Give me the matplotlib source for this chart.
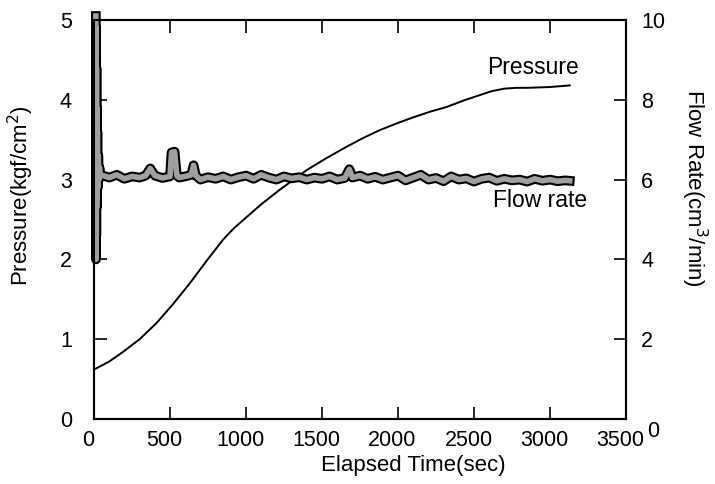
import matplotlib
matplotlib.use('Agg')
import matplotlib.pyplot as plt
import matplotlib.patheffects as pe
from matplotlib.transforms import ScaledTranslation

plt.rcParams['font.family'] = ['Liberation Sans', 'DejaVu Sans']

# Pressure curve (kgf/cm2) vs elapsed time (sec)
p_time = [0, 100, 190, 300, 410, 520, 630, 740, 850, 920, 980, 1100, 1220,
          1400, 1530, 1660, 1770, 1880, 2000, 2100, 2210, 2320, 2430, 2540,
          2620, 2700, 2780, 2850, 3000, 3130]
pressure = [0.62, 0.72, 0.84, 1.00, 1.20, 1.44, 1.70, 1.98, 2.25, 2.39, 2.49,
            2.69, 2.87, 3.12, 3.27, 3.41, 3.52, 3.62, 3.71, 3.78, 3.85, 3.91,
            3.99, 4.06, 4.11, 4.14, 4.15, 4.15, 4.16, 4.18]

# Flow rate (cm3/min) vs elapsed time (sec), start-up transient first
f_time = [12, 13, 14, 15, 16, 17, 18, 20, 22, 25, 28, 32, 36, 40, 50,
          60, 100, 150, 200, 250, 300, 340, 370, 400, 450, 500, 510, 530,
          545, 560, 600, 640, 655, 670, 700, 750, 800, 850, 900, 950, 1000,
          1050, 1100, 1150, 1200, 1250, 1300, 1350, 1400, 1450, 1500, 1550,
          1600, 1650, 1680, 1700, 1750, 1800, 1850, 1900, 1950, 2000, 2050,
          2100, 2150, 2200, 2250, 2300, 2350, 2400, 2450, 2500, 2550, 2600,
          2650, 2700, 2750, 2800, 2850, 2900, 2950, 3000, 3050, 3100, 3130]
flow = [10.1, 4.0, 9.8, 4.6, 8.8, 5.3, 7.8, 5.6, 7.2, 5.8, 6.6, 6.0, 6.3, 6.1,
        6.1, 6.10, 6.05, 6.12, 6.02, 6.08, 6.05, 6.10, 6.28, 6.10, 6.04, 6.08,
        6.68, 6.70, 6.10, 6.05, 6.08, 6.12, 6.36, 6.10, 6.00, 6.06, 6.02,
        6.08, 6.00, 6.06, 6.10, 6.02, 6.12, 6.05, 6.00, 6.08, 6.03, 6.06,
        6.00, 6.05, 6.02, 6.08, 6.00, 6.04, 6.26, 6.05, 6.10, 6.02, 6.07,
        6.00, 6.05, 6.10, 5.98, 6.05, 6.12, 6.00, 6.04, 5.96, 6.08, 6.00,
        6.03, 5.95, 6.02, 6.05, 5.97, 6.02, 5.98, 6.00, 5.95, 6.02, 5.97,
        6.00, 5.96, 5.98, 5.97]

x_ticks = [0, 500, 1000, 1500, 2000, 2500, 3000, 3500]
p_ticks = [0, 1, 2, 3, 4, 5]
f_ticks = [0, 2, 4, 6, 8, 10]

fig = plt.figure(figsize=(7.15, 4.84), dpi=100)
ax = fig.add_axes([0.1315, 0.1343, 0.744, 0.8244])
ax2 = ax.twinx()

ax.plot(p_time, pressure, color='black', lw=1.4, zorder=3)
ax2.plot(f_time, flow, color='#a0a0a0', lw=4, solid_joinstyle='round',
         clip_on=False,
         path_effects=[pe.Stroke(linewidth=7, foreground='black'), pe.Normal()])

ax.set_xlim(0, 3500)
ax.set_ylim(0, 5)
ax2.set_ylim(0, 10)
ax.set_xticks(x_ticks)
ax.set_yticks(p_ticks)
ax2.set_yticks(f_ticks)

fs = 15.5
ax.tick_params(axis='both', direction='in', length=9, width=1.2,
               labelsize=fs, top=True, pad=8)
ax.tick_params(axis='y', pad=16)
ax2.tick_params(axis='y', direction='in', length=9, width=1.2,
                labelsize=fs, pad=11)

# x tick labels sit a touch left of their ticks
shift = ScaledTranslation(-4/72, 0, fig.dpi_scale_trans)
for lbl in ax.get_xticklabels():
    lbl.set_transform(lbl.get_transform() + shift)

# right-axis zero label sits a little lower than the rest
ax2.set_yticklabels(['', '2', '4', '6', '8', '10'])
ax2.text(1.0, 0.0, '0',
         transform=ax2.transAxes + ScaledTranslation(15/72, -9/72, fig.dpi_scale_trans),
         fontsize=fs, ha='left', va='center')

for a in (ax, ax2):
    for s in a.spines.values():
        s.set_linewidth(1.5)

ax.set_xlabel('Elapsed Time(sec)', fontsize=16)
ax.xaxis.set_label_coords(0.60, -0.09)
ax.set_ylabel('Pressure(kgf/cm$^2$)', fontsize=16)
ax.yaxis.set_label_coords(-0.11, 0.56)
ax2.set_ylabel('Flow Rate(cm$^3$/min)', fontsize=16, rotation=270, va='bottom')
ax2.yaxis.set_label_coords(1.10, 0.58)

ax.text(2890, 4.41, 'Pressure', fontsize=16.5, ha='center', va='center')
ax.text(2935, 2.74, 'Flow rate', fontsize=16.5, ha='center', va='center')

fig.savefig('out.png', dpi=100)
